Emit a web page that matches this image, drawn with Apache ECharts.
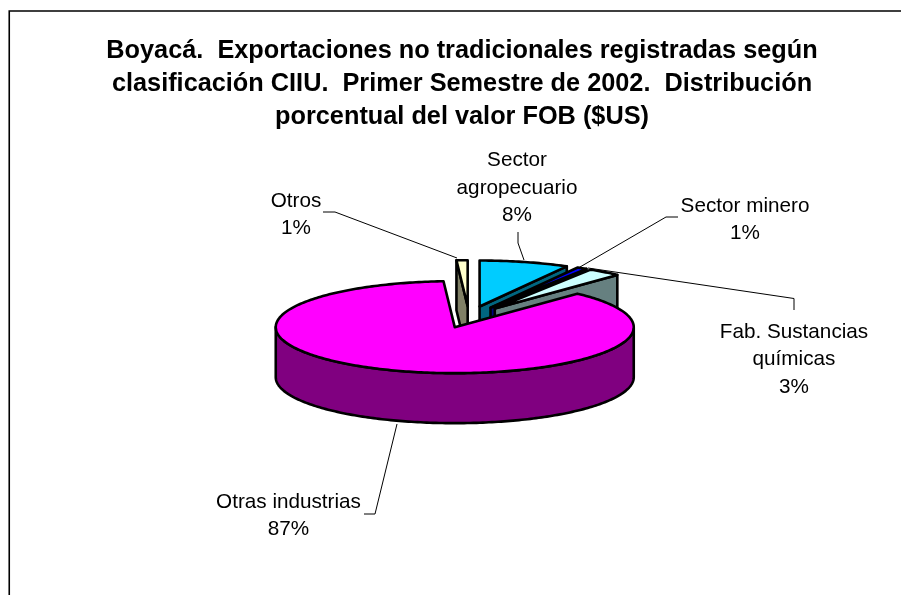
<!DOCTYPE html>
<html><head><meta charset="utf-8">
<style>html,body{margin:0;padding:0;background:#fff}#c{width:901px;height:595px}</style>
<script src="https://cdn.jsdelivr.net/npm/echarts@6/dist/echarts.min.js"></script>
</head><body><div id="c"></div>
<script>
const titleLines = ['Boyacá.  Exportaciones no tradicionales registradas según','clasificación CIIU.  Primer Semestre de 2002.  Distribución','porcentual del valor FOB ($US)'];
const categories = ['Sector agropecuario','Sector minero','Fab. Sustancias químicas','Otras industrias','Otros'];
const values = [8.1, 0.9, 3.0, 87.0, 1.0];
const topColors = ['#00CCFF','#0000FF','#CCFFFF','#FF00FF','#FFFFCC'];
const wallColors = ['#006680','#000080','#668080','#800080','#808066'];
const drawOrder = [4,0,1,2,3];
const labelLines = [['Sector','agropecuario'],['Sector minero'],['Fab. Sustancias','químicas'],['Otras industrias'],['Otros']];
const labelAnchors = [[517,188],[745,220],[794,359.5],[288.5,516],[296,215]];
const leaders = [
  [[518,232],[518,243],[524,260]],
  [[678,217],[666,217],[580,267]],
  [[794,310],[794,298.5],[588,268]],
  [[364,514],[375,514],[397,424]],
  [[323,212],[335,212],[457,258]]
];
const pie = {cx:469, cy:317, rx:179, ry:46, depth:50, explode:0.235, startAngle:90};

const total = values.reduce((a,b)=>a+b,0);
const rad = d => d*Math.PI/180;
const ranges = []; { let s = pie.startAngle; values.forEach(v=>{ const e = s - v/total*360; ranges.push([s,e]); s = e; }); }

function renderSlice(params, api){
  const i = api.value(0);
  const [a1,a2] = ranges[i];
  const mid = (a1+a2)/2;
  const ox = pie.cx + pie.explode*pie.rx*Math.cos(rad(mid));
  const oy = pie.cy - pie.explode*pie.ry*Math.sin(rad(mid));
  const rim = a => [ox+pie.rx*Math.cos(rad(a)), oy-pie.ry*Math.sin(rad(a))];
  const down = p => [p[0], p[1]+pie.depth];
  const stroke = {stroke:'#000', lineWidth:2.6, lineJoin:'round'};
  const children = [];
  const radialWall = a => {
    const p = rim(a);
    children.push({type:'polygon', shape:{points:[[ox,oy],p,down(p),down([ox,oy])]}, style:{fill:wallColors[i],...stroke}});
  };
  if (Math.cos(rad(a1)) < -1e-6) radialWall(a1);
  if (Math.cos(rad(a2)) > 1e-6) radialWall(a2);
  const hi = Math.min(a1,0), lo = Math.max(a2,-180);
  if (hi > lo){
    const upper = [];
    for (let a=lo; a<=hi+1e-6; a+=1) upper.push(rim(a));
    children.push({type:'polygon', shape:{points:upper.concat(upper.map(down).reverse())}, style:{fill:wallColors[i],...stroke}});
  }
  const face = [[ox,oy]];
  const steps = Math.max(2, Math.ceil(a1-a2));
  for (let k=0;k<=steps;k++) face.push(rim(a1-(a1-a2)*k/steps));
  children.push({type:'polygon', shape:{points:face}, style:{fill:topColors[i],...stroke}});
  children.push({type:'polyline', shape:{points:leaders[i]}, style:{fill:'none',stroke:'#000',lineWidth:1}});
  const pct = Math.round(api.value(1))+'%';
  children.push({type:'text', x:labelAnchors[i][0], y:labelAnchors[i][1], style:{
    text:labelLines[i].concat(pct).join('\n'), align:'center', verticalAlign:'middle',
    font:'20.7px "Liberation Sans"', lineHeight:27.3, fill:'#000'}});
  return {type:'group', children};
}

const chart = echarts.init(document.getElementById('c'), null, {renderer:'canvas'});
chart.setOption({
  animation:false,
  backgroundColor:'#fff',
  title:{text:titleLines.join('\n'), left:457, top:30, textAlign:'center',
    textStyle:{fontFamily:'Liberation Sans', fontWeight:'bold', fontSize:25.3, lineHeight:33, color:'#000'}},
  graphic:[{type:'polyline', z:10, shape:{points:[[9.25,595],[9.25,11],[901,11]]}, style:{fill:'none',stroke:'#000',lineWidth:1.6}}],
  series:[{type:'custom', coordinateSystem:'none', renderItem:renderSlice,
    data:drawOrder.map(i=>({name:categories[i], value:[i,values[i]]}))}]
});
</script></body></html>
